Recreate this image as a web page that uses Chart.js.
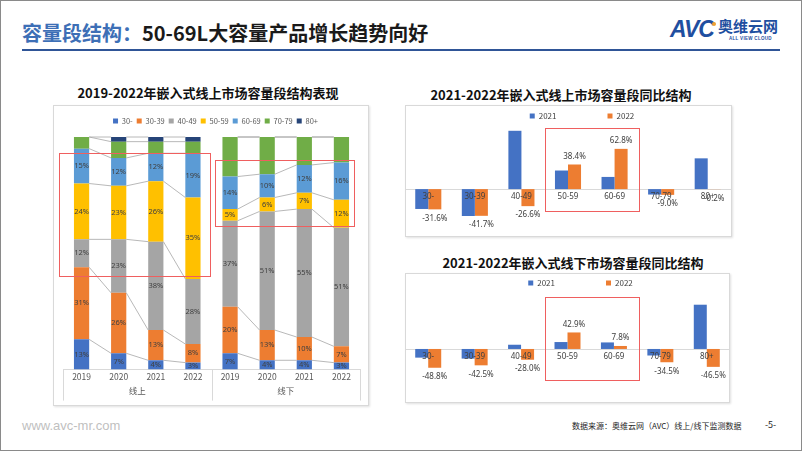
<!DOCTYPE html>
<html lang="zh">
<head>
<meta charset="utf-8">
<title>容量段结构</title>
<script src="https://cdn.jsdelivr.net/npm/chart.js@4.4.1/dist/chart.umd.min.js"></script>
<style>
  html, body { margin: 0; padding: 0; }
  body { width: 802px; height: 451px; position: relative; overflow: hidden; background: #fff;
    font-family: "Noto Sans CJK SC", "Noto Sans", sans-serif; }
  .abs { position: absolute; }
  #frame { left: 0; top: 0; width: 800px; height: 449px; border: 1px solid #8a8a8a; }
  #head { left: 22px; top: 19px; font-size: 20px; font-weight: 700; color: #1a1a1a; white-space: nowrap; line-height: 28px; }
  #head span { color: #3d6fb6; }
  #rule { left: 22px; top: 49px; width: 758px; height: 2px; background: #2f5597; }
  #avc { left: 670px; top: 16px; font: italic 900 23px "Liberation Sans", sans-serif; color: #1f4fa0; letter-spacing: -1px; }
  #dot { left: 712px; top: 22px; width: 4px; height: 4px; border-radius: 2px; background: #f0a030; }
  #brand { left: 718px; top: 17px; font-size: 15px; font-weight: 700; color: #1f4fa0; white-space: nowrap; line-height: 18px; }
  #brand-en { left: 729px; top: 36px; font: 700 4.5px "Liberation Sans", sans-serif; color: #1f4fa0; white-space: nowrap; letter-spacing: 0.3px; }
  .panel { border: 1px solid #d9d9d9; box-shadow: 1px 1px 2px rgba(0,0,0,0.12); box-sizing: border-box; background: #fff; }
  .ctitle { font-size: 13px; font-weight: 700; color: #111; white-space: nowrap; transform: translateX(-50%); line-height: 16px; }
  .hl { border: 1.5px solid #ef5f5f; box-sizing: border-box; }
  canvas { position: absolute; }
  #site { left: 22px; top: 418px; font: 13px "Liberation Sans", sans-serif; color: #bfbfbf; }
  #src { left: 572px; top: 420px; font-size: 8px; color: #262626; white-space: nowrap; line-height: 12px; }
  #page { left: 765px; top: 419px; font-size: 9px; color: #262626; line-height: 12px; }
</style>
</head>
<body>
<div class="abs" id="frame"></div>
<div class="abs" id="head"><span>容量段结构：</span>50-69L大容量产品增长趋势向好</div>
<div class="abs" id="rule"></div>
<div class="abs" id="avc">AVC</div>
<div class="abs" id="dot"></div>
<div class="abs" id="brand">奥维云网</div>
<div class="abs" id="brand-en">ALL VIEW CLOUD</div>

<div class="abs ctitle" style="left:208px;top:85px">2019-2022年嵌入式线上市场容量段结构表现</div>
<div class="abs ctitle" style="left:561px;top:87px">2021-2022年嵌入式线上市场容量段同比结构</div>
<div class="abs ctitle" style="left:573px;top:255px">2021-2022年嵌入式线下市场容量段同比结构</div>

<div class="abs panel" style="left:53px;top:105px;width:316px;height:301px"></div>
<div class="abs panel" style="left:405px;top:105px;width:327px;height:132px"></div>
<div class="abs panel" style="left:405px;top:273px;width:325px;height:130px"></div>

<canvas id="mix" width="315" height="298" style="left:53px;top:106px"></canvas>
<canvas id="onlineYoy" width="326" height="129" style="left:405px;top:106px"></canvas>
<canvas id="offlineYoy" width="325" height="127" style="left:405px;top:274px"></canvas>

<div class="abs hl" style="left:59px;top:153px;width:152px;height:124px"></div>
<div class="abs hl" style="left:215px;top:160px;width:140px;height:67px"></div>
<div class="abs hl" style="left:545px;top:128px;width:95px;height:84px"></div>
<div class="abs hl" style="left:545px;top:297px;width:95px;height:84px"></div>

<div class="abs" id="site">www.avc-mr.com</div>
<div class="abs" id="src">数据来源：奥维云网（AVC）线上/线下监测数据</div>
<div class="abs" id="page">-5-</div>

<script>
// ---- data ----
const years = ['2019', '2020', '2021', '2022', '2019', '2020', '2021', '2022']
const channels = ['线上', '线下']
const bands = ['30-', '30-39', '40-49', '50-59', '60-69', '70-79', '80+']

// share (%) per band: online 2019-2022, then offline 2019-2022
const share30 = [13, 7, 4, 3, 7, 4, 4, 3]
const share3039 = [31, 26, 13, 8, 20, 13, 10, 7]
const share4049 = [12, 23, 38, 28, 37, 51, 55, 51]
const share5059 = [24, 23, 26, 35, 5, 6, 7, 12]
const share6069 = [15, 12, 12, 19, 14, 10, 12, 16]
const share7079 = [5, 7, 5, 5, 17, 16, 12, 11]
const share80 = [0, 2, 2, 2, 0, 0, 0, 0]

// year-on-year change (%) per band
const online2021 = [-31, -42, 91, 29, 19, -8.5, 48]
const online2022 = [-31.6, -41.7, -26.6, 38.4, 62.8, -9.0, -0.2]
const offline2021 = [-22.5, -25, 11, 18, 17, -17, 115]
const offline2022 = [-48.8, -42.5, -28.0, 42.9, 7.8, -34.5, -46.5]

const shares = [share30, share3039, share4049, share5059, share6069, share7079, share80]
const bandColors = ['#4472c4', '#ed7d31', '#a5a5a5', '#ffc000', '#5b9bd5', '#70ad47', '#264478']

Chart.defaults.font.family = '"Noto Sans CJK SC", "Noto Sans", sans-serif'

// move the legend after layout so it does not eat plot height
const legendPlace = {
	id: 'legendPlace',
	afterLayout(chart, args, opts) {
		const lg = chart.legend
		lg.left += opts.dx
		lg.right += opts.dx
		lg.top = opts.top
		lg.bottom = opts.top + 120
	}
}

// series lines, segment labels and group dividers for the stacked chart
const stackMarks = {
	id: 'stackMarks',
	afterDatasetsDraw(chart) {
		const ctx = chart.ctx
		ctx.save()
		ctx.strokeStyle = '#a6a6a6'
		ctx.lineWidth = 0.8
		chart.data.datasets.forEach((ds, d) => {
			const bars = chart.getDatasetMeta(d).data
			for (let j = 0; j < bars.length - 1; j++) {
				if (j == 3) continue // no line between 线上 and 线下
				const a = bars[j], b = bars[j + 1]
				ctx.beginPath()
				ctx.moveTo(a.x + a.width / 2, a.y)
				ctx.lineTo(b.x - b.width / 2, b.y)
				ctx.stroke()
			}
		})
		ctx.fillStyle = '#404040'
		ctx.font = '7.5px "Noto Sans", sans-serif'
		ctx.textAlign = 'center'
		ctx.textBaseline = 'middle'
		for (let d = 0; d < 5; d++) {
			chart.getDatasetMeta(d).data.forEach((bar, j) => {
				ctx.fillText(chart.data.datasets[d].data[j] + '%', bar.x, (bar.y + bar.base) / 2)
			})
		}
		// dividers under the axis
		const x = chart.scales.x
		const area = chart.chartArea
		const mid = (x.getPixelForValue(3) + x.getPixelForValue(4)) / 2
		ctx.strokeStyle = '#d9d9d9'
		ctx.lineWidth = 1
		;[area.left, mid, area.right].forEach(px => {
			ctx.beginPath()
			ctx.moveTo(Math.round(px) + 0.5, area.bottom)
			ctx.lineTo(Math.round(px) + 0.5, area.bottom + 31)
			ctx.stroke()
		})
		ctx.restore()
	}
}

// zero line, band labels on it and value labels for 2022
const yoyMarks = {
	id: 'yoyMarks',
	beforeDatasetsDraw(chart) {
		const ctx = chart.ctx
		const zero = Math.round(chart.scales.y.getPixelForValue(0)) + 0.5
		ctx.save()
		ctx.strokeStyle = '#d9d9d9'
		ctx.lineWidth = 1
		ctx.beginPath()
		ctx.moveTo(chart.chartArea.left, zero)
		ctx.lineTo(chart.chartArea.right, zero)
		ctx.stroke()
		ctx.restore()
	},
	afterDatasetsDraw(chart) {
		const ctx = chart.ctx
		const x = chart.scales.x
		const zero = chart.scales.y.getPixelForValue(0)
		ctx.save()
		ctx.fillStyle = '#404040'
		ctx.font = '8px "Noto Sans", sans-serif'
		ctx.textAlign = 'center'
		ctx.textBaseline = 'middle'
		chart.data.labels.forEach((lab, i) => {
			ctx.fillText(lab, x.getPixelForValue(i), zero + 8)
		})
		const vals = chart.data.datasets[1].data
		chart.getDatasetMeta(1).data.forEach((bar, i) => {
			const v = vals[i]
			ctx.fillText(v.toFixed(1) + '%', bar.x, bar.y + (v < 0 ? 9 : -8))
		})
		ctx.restore()
	}
}

new Chart(document.getElementById('mix'), {
	type: 'bar',
	data: {
		labels: years,
		datasets: bands.map((b, i) => ({
			label: b,
			data: shares[i],
			backgroundColor: bandColors[i],
			barPercentage: 0.41,
			categoryPercentage: 1,
		})),
	},
	options: {
		animation: false,
		responsive: false,
		layout: { padding: { top: 30, bottom: 6, left: 10, right: 8 } },
		plugins: {
			legend: {
				maxHeight: 1,
				labels: { boxWidth: 5, boxHeight: 5, padding: 4, color: '#595959', font: { size: 7.5 } },
			},
			tooltip: { enabled: false },
			legendPlace: { dx: 4, top: 7.25 },
		},
		scales: {
			x: {
				stacked: true,
				grid: { display: false, drawTicks: false },
				border: { display: true, color: '#d9d9d9' },
				ticks: { color: '#595959', font: { size: 8.5 }, padding: 2 },
			},
			x2: {
				type: 'category',
				labels: channels,
				position: 'bottom',
				offset: true,
				grid: { display: false, drawTicks: false },
				border: { display: false },
				ticks: { color: '#595959', font: { size: 8.5 }, padding: 2 },
			},
			y: { stacked: true, display: false, min: 0, max: 100 },
		},
	},
	plugins: [legendPlace, stackMarks],
})

function yoyChart(id, d2021, d2022, yMin, yMax, legendTop, dx) {
	return new Chart(document.getElementById(id), {
		type: 'bar',
		data: {
			labels: bands,
			datasets: [
				{ label: '2021', data: d2021, backgroundColor: '#4472c4' },
				{ label: '2022', data: d2022, backgroundColor: '#ed7d31' },
			],
		},
		options: {
			animation: false,
			responsive: false,
			layout: { padding: { top: 2, bottom: 2, left: 0, right: 0 } },
			datasets: { bar: { categoryPercentage: 0.56, barPercentage: 1 } },
			plugins: {
				legend: {
					maxHeight: 1,
					labels: { boxWidth: 5, boxHeight: 5, padding: 51, color: '#404040', font: { size: 8 } },
				},
				tooltip: { enabled: false },
				legendPlace: { dx: dx, top: legendTop },
			},
			scales: {
				x: { display: false },
				y: { display: false, min: yMin, max: yMax },
			},
		},
		plugins: [legendPlace, yoyMarks],
	})
}

yoyChart('onlineYoy', online2021, online2022, -68.5, 125, -45, 14)
yoyChart('offlineYoy', offline2021, offline2022, -130, 187, -46, 13)
</script>
</body>
</html>
